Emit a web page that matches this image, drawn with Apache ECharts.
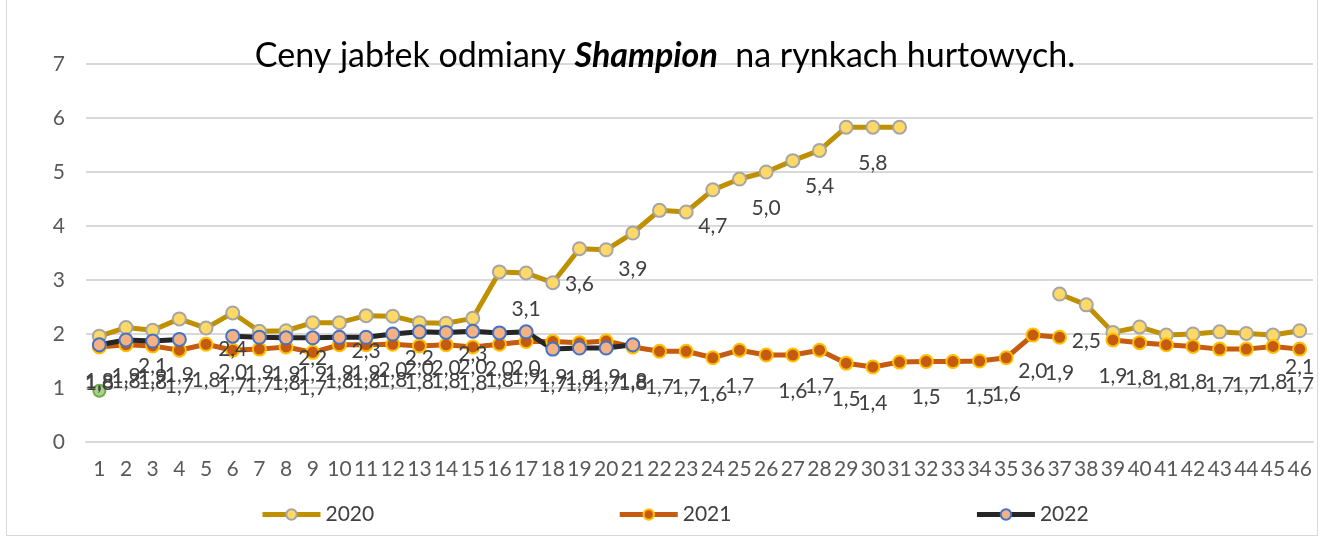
<!DOCTYPE html>
<html>
<head>
<meta charset="utf-8">
<script src="https://cdn.jsdelivr.net/npm/echarts@6/dist/echarts.min.js"></script>
<style>
html,body{margin:0;padding:0;background:#fff;}
#frame{position:absolute;left:6px;top:-2px;width:1312px;height:538px;border:1px solid #d9d9d9;box-sizing:border-box;}
#c{position:absolute;left:0;top:0;width:1330px;height:540px;}
</style>
</head>
<body>
<div id="frame"></div>
<div id="c"></div>
<script>
const categories = ['1','2','3','4','5','6','7','8','9','10','11','12','13','14','15','16','17','18','19','20','21','22','23','24','25','26','27','28','29','30','31','32','33','34','35','36','37','38','39','40','41','42','43','44','45','46'];
const yTicks = [0,1,2,3,4,5,6,7];
const s2020 = [1.96,2.12,2.07,2.28,2.11,2.39,2.05,2.06,2.21,2.21,2.34,2.33,2.21,2.2,2.29,3.15,3.13,2.95,3.58,3.56,3.87,4.29,4.26,4.67,4.87,5.0,5.21,5.4,5.83,5.83,5.83,null,null,null,null,null,2.74,2.54,2.03,2.13,1.98,2.0,2.04,2.01,1.98,2.06];
const s2021 = [1.76,1.8,1.78,1.7,1.81,1.7,1.72,1.76,1.66,1.8,1.8,1.81,1.78,1.8,1.76,1.81,1.86,1.86,1.84,1.87,1.76,1.68,1.68,1.56,1.7,1.61,1.61,1.7,1.46,1.39,1.48,1.49,1.49,1.5,1.56,1.98,1.94,null,1.89,1.84,1.8,1.77,1.72,1.72,1.77,1.72];
const s2022 = [1.8,1.89,1.87,1.9,null,1.96,1.94,1.93,1.93,1.94,1.94,2.0,2.04,2.03,2.05,2.02,2.04,1.72,1.74,1.74,1.8];
const sExtra = [0.95];
const labeled2020 = [3,6,9,11,13,15,17,19,21,24,26,28,30,38,46];
const unlabeled2021 = [26,31,33];
const unlabeled2022 = [];

const FONT = 'Lato';
const fmt = v => (typeof v === 'number' ? v.toFixed(1).replace('.', ',') : '');
function build(arr, showFn){
  return arr.map((v,i)=>({value:v, label:{show: v!=null && showFn(i+1)}}));
}
const labelStyle = {position:'bottom', distance:18, fontSize:21, color:'#404040', fontFamily:FONT, formatter:p=>fmt(p.value)};

const chart = echarts.init(document.getElementById('c'), null, {renderer:'canvas'});
chart.setOption({
  animation:false,
  backgroundColor:'transparent',
  title:{
    text:'Ceny jabłek odmiany {b|Shampion}  na rynkach hurtowych.',
    left:'center', top:34,
    textStyle:{fontSize:34, fontWeight:'normal', color:'#000', fontFamily:FONT,
      rich:{b:{fontSize:34, fontWeight:'bold', fontStyle:'italic', color:'#000', fontFamily:FONT}}}
  },
  legend:{
    data:['2020','2021','2022'],
    left:255, top:499, itemWidth:58, itemHeight:13, itemGap:243,
    lineStyle:{width:5},
    textStyle:{fontSize:21, color:'#404040', fontFamily:FONT}
  },
  grid:{left:86, right:17, top:64, bottom:98},
  xAxis:{
    type:'category', data:categories, boundaryGap:true,
    axisLine:{show:true, lineStyle:{color:'#d9d9d9', width:2}},
    axisTick:{show:false},
    axisLabel:{interval:0, fontSize:21, color:'#595959', fontFamily:FONT, margin:17}
  },
  yAxis:{
    type:'value', min:yTicks[0], max:yTicks[yTicks.length-1], interval:1,
    axisLine:{show:false}, axisTick:{show:false},
    splitLine:{lineStyle:{color:'#d9d9d9', width:2}},
    axisLabel:{fontSize:21, color:'#595959', fontFamily:FONT, margin:21}
  },
  series:[
    {name:'2020', type:'line', data:build(s2020, i=>labeled2020.includes(i)),
     symbol:'circle', symbolSize:13, connectNulls:false,
     lineStyle:{color:'#BF9000', width:5},
     itemStyle:{color:'#FFD966', borderColor:'#A5A5A5', borderWidth:2},
     label:labelStyle},
    {name:'2021', type:'line', data:build(s2021, i=>!unlabeled2021.includes(i)),
     symbol:'circle', symbolSize:13, connectNulls:false,
     lineStyle:{color:'#C55A11', width:5},
     itemStyle:{color:'#C55A11', borderColor:'#FFC000', borderWidth:2},
     label:labelStyle},
    {name:'2022', type:'line', data:build(s2022, i=>!unlabeled2022.includes(i)),
     symbol:'circle', symbolSize:13, connectNulls:false,
     lineStyle:{color:'#262626', width:5},
     itemStyle:{color:'#F4B183', borderColor:'#4472C4', borderWidth:2},
     label:labelStyle},
    {name:'extra', type:'line', data:sExtra,
     symbol:'circle', symbolSize:12,
     lineStyle:{color:'#70AD47', width:5},
     itemStyle:{color:'#A9D18E', borderColor:'#70AD47', borderWidth:2},
     label:{show:false}}
  ]
});
</script>
</body>
</html>
